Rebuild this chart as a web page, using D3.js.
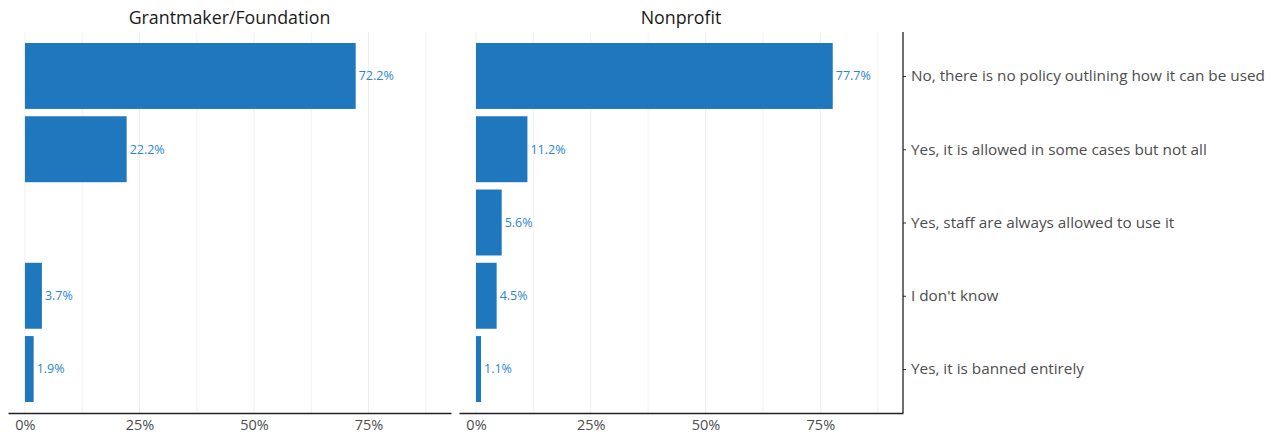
<!DOCTYPE html>
<html><head><meta charset="utf-8">
<script src="https://cdn.jsdelivr.net/npm/d3@7"></script>
<style>body{margin:0;background:#fff}svg{display:block}text{font-family:"Open Sans",sans-serif}</style>
</head><body>
<svg id="c" width="1271" height="437"></svg>
<script>
const categories = [
  "No, there is no policy outlining how it can be used",
  "Yes, it is allowed in some cases but not all",
  "Yes, staff are always allowed to use it",
  "I don't know",
  "Yes, it is banned entirely"
];
const panels = ["Grantmaker/Foundation", "Nonprofit"];
const grantmakerValues = [72.2, 22.2, null, 3.7, 1.9];
const nonprofitValues = [77.7, 11.2, 5.6, 4.5, 1.1];
const xTicks = [0, 25, 50, 75];
const xMinor = [12.5, 37.5, 62.5, 87.5];
const tickLabels = ["0%", "25%", "50%", "75%"];

const seriesList = [grantmakerValues, nonprofitValues];
const svg = d3.select("#c");
const pTop = 32, pBottom = 413;
const panelX = [[8, 451], [459, 903]];
const barColor = "#1f78bd", labelColor = "#2a86d2";
const FONT = '"Open Sans",sans-serif';

// ggplot-like discrete scale: 0.6 units expansion each side, bar width 0.9
const y = d3.scalePoint().domain(categories).range([pTop, pBottom]).padding(0.6);
const unit = y.step();
const barH = unit * 0.9;

panels.forEach((name, p) => {
  const [x0, x1] = panelX[p];
  const x = d3.scaleLinear().domain([-3.7, 93.0]).range([x0, x1]);
  const g = svg.append("g");
  g.selectAll(".gmin").data(xMinor).enter().append("line")
    .attr("x1", d => x(d)).attr("x2", d => x(d)).attr("y1", pTop).attr("y2", pBottom)
    .attr("stroke", "#f3f3f3").attr("stroke-width", 1);
  g.selectAll(".gmaj").data(xTicks).enter().append("line")
    .attr("x1", d => x(d)).attr("x2", d => x(d)).attr("y1", pTop).attr("y2", pBottom)
    .attr("stroke", "#efefef").attr("stroke-width", 1);
  const vals = seriesList[p];
  const data = categories.map((c, i) => ({c, i, v: vals[i]})).filter(d => d.v != null);
  g.selectAll("rect").data(data).enter().append("rect")
    .attr("x", x(0)).attr("width", d => x(d.v) - x(0))
    .attr("y", d => y(d.c) - barH / 2).attr("height", barH)
    .attr("fill", barColor);
  g.selectAll(".lab").data(data).enter().append("text")
    .attr("x", d => x(d.v) + 3).attr("y", d => y(d.c) + 1)
    .attr("dominant-baseline", "middle").attr("font-size", 12.5)
    .attr("fill", labelColor).text(d => d.v.toFixed(1) + "%");
  const ax = d3.axisBottom(x).tickValues(xTicks).tickFormat((d, i) => tickLabels[i]).tickSize(0).tickPadding(7);
  const axg = g.append("g").attr("transform", `translate(0,${pBottom})`).call(ax);
  axg.select(".domain").attr("stroke", "#222").attr("stroke-width", 1.3);
  axg.selectAll("text").attr("font-size", 14.5).attr("fill", "#4d4d4d").attr("font-family", FONT);
  svg.append("text").attr("x", (x0 + x1) / 2).attr("y", 24).attr("text-anchor", "middle")
    .attr("font-size", 17.8).attr("fill", "#1a1a1a").text(name);
  if (p === 1) {
    const ay = d3.axisRight(y).tickSize(3).tickPadding(5);
    const ayg = svg.append("g").attr("transform", `translate(${x1},0)`).call(ay);
    ayg.select(".domain").remove();
    ayg.append("line").attr("x1", 0).attr("x2", 0).attr("y1", pTop).attr("y2", pBottom).attr("stroke", "#222").attr("stroke-width", 1.3);
    ayg.selectAll(".tick line").attr("stroke", "#333");
    ayg.selectAll("text").attr("font-size", 15.3).attr("fill", "#4d4d4d").attr("font-family", FONT);
  }
});
</script>
</body></html>
